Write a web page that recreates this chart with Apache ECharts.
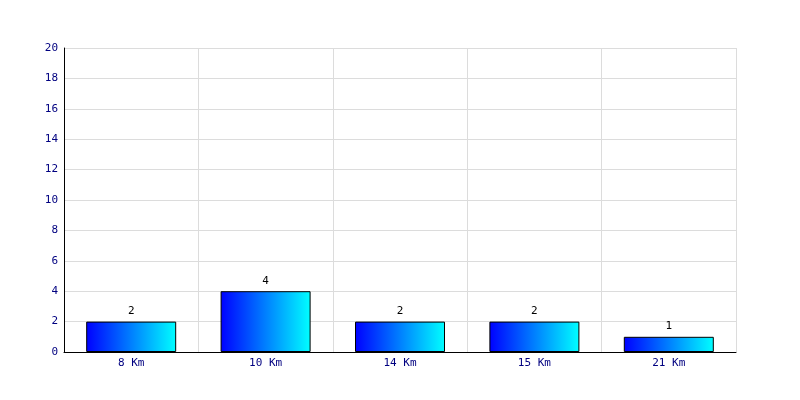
<!DOCTYPE html>
<html><head><meta charset="utf-8">
<script src="https://cdn.jsdelivr.net/npm/echarts@6/dist/echarts.min.js"></script>
<style>html,body{margin:0;padding:0;background:#fff}#c{width:800px;height:400px}</style>
</head><body><div id="c"></div>
<script>
var categories = ['8 Km', '10 Km', '14 Km', '15 Km', '21 Km'];
var values = [2, 4, 2, 2, 1];
var yTicks = {min: 0, max: 20, interval: 2};

var chart = echarts.init(document.getElementById('c'), null, {renderer: 'canvas'});
var font = '"DejaVu Sans Mono", monospace';
chart.setOption({
  animation: false,
  backgroundColor: '#ffffff',
  grid: {left: 64, right: 64, top: 48, bottom: 48, containLabel: false},
  xAxis: {
    type: 'category',
    data: categories,
    boundaryGap: true,
    axisLine: {lineStyle: {color: '#000', width: 1}},
    axisTick: {show: false},
    axisLabel: {color: '#000080', fontFamily: font, fontSize: 11, margin: 6},
    splitLine: {show: true, lineStyle: {color: '#dcdcdc', width: 1}}
  },
  yAxis: {
    type: 'value',
    min: yTicks.min, max: yTicks.max, interval: yTicks.interval,
    axisLine: {show: true, lineStyle: {color: '#000', width: 1}},
    axisTick: {show: false},
    axisLabel: {color: '#000080', fontFamily: font, fontSize: 11, margin: 6},
    splitLine: {show: true, lineStyle: {color: '#dcdcdc', width: 1}}
  },
  series: [{
    type: 'bar',
    data: values,
    barWidth: 90,
    itemStyle: {
      borderColor: '#000', borderWidth: 1,
      color: new echarts.graphic.LinearGradient(0, 0, 1, 0, [
        {offset: 0, color: '#0000ff'}, {offset: 1, color: '#00ffff'}
      ])
    },
    label: {show: true, position: 'top', color: '#000', fontFamily: font, fontSize: 11, distance: 5}
  }]
});
</script></body></html>
